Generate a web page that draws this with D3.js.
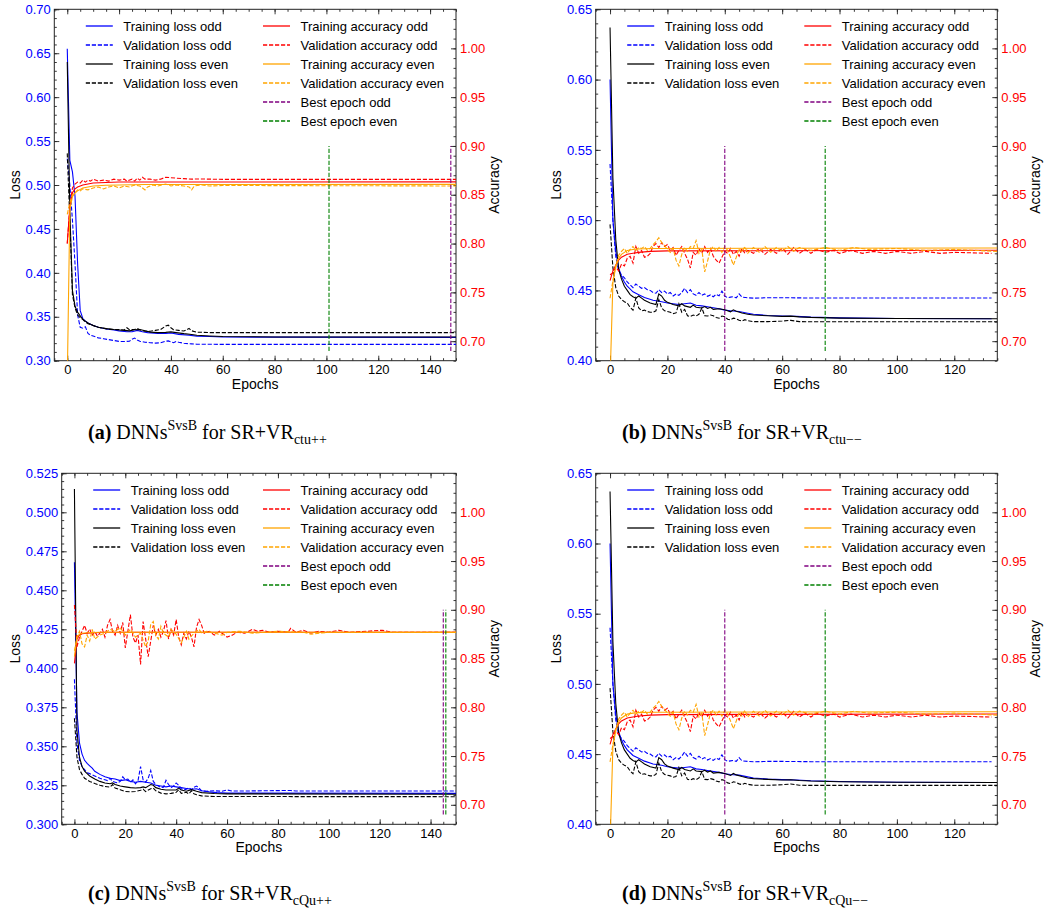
<!DOCTYPE html>
<html>
<head>
<meta charset="utf-8">
<script src="https://cdn.jsdelivr.net/npm/d3@7"></script>
<style>
  body { margin: 0; background: #fff; }
  svg text { font-family: "Liberation Sans", Arial, Helvetica, sans-serif; }
  svg .caption text { font-family: "Liberation Serif", "DejaVu Serif", serif; }
</style>
</head>
<body>
<svg id="fig" width="1047" height="920"></svg>
<script>
// ---- data: [epoch, value] pairs ----

// (a) SR+VR ctu++
var aTrainLossOdd = [[0,0.655],[1,0.528],[2,0.515],[3,0.487],[4,0.41],[5,0.357],[6,0.348],[7,0.345],[8,0.343],[10,0.340],[12,0.338],[15,0.336],[18,0.335],[20,0.334],[23,0.333],[25,0.333],[27,0.3345],[29,0.333],[31,0.332],[35,0.331],[38,0.331],[40,0.3315],[43,0.330],[47,0.329],[50,0.328],[55,0.3275],[60,0.327],[80,0.3268],[150,0.3266]];
var aValLossOdd = [[0,0.53],[1,0.50],[2,0.46],[3,0.41],[4,0.352],[5,0.338],[6,0.337],[7,0.3385],[8,0.331],[9,0.329],[10,0.328],[12,0.326],[14,0.325],[16,0.324],[18,0.323],[20,0.322],[22,0.3218],[24,0.3222],[25,0.3245],[26,0.3258],[27,0.3235],[28,0.3222],[30,0.321],[32,0.3205],[34,0.320],[36,0.3205],[38,0.3222],[39,0.3225],[40,0.3215],[41,0.3205],[42,0.3218],[43,0.3210],[45,0.3198],[48,0.3192],[50,0.3188],[60,0.3186],[150,0.3186]];
var aTrainLossEven = [[0,0.64],[1,0.47],[2,0.38],[3,0.362],[4,0.355],[5,0.351],[6,0.347],[8,0.343],[10,0.340],[12,0.338],[15,0.3365],[18,0.3355],[20,0.335],[22,0.3345],[24,0.334],[26,0.3352],[28,0.3355],[30,0.334],[32,0.3325],[35,0.332],[38,0.3322],[40,0.3328],[42,0.332],[45,0.3308],[48,0.3298],[50,0.329],[55,0.3282],[60,0.3275],[80,0.327],[150,0.327]];
var aValLossEven = [[0,0.536],[1,0.46],[2,0.375],[3,0.36],[4,0.352],[5,0.349],[6,0.347],[7,0.344],[8,0.342],[10,0.340],[12,0.338],[14,0.337],[16,0.336],[18,0.3355],[20,0.3355],[22,0.335],[23,0.3375],[24,0.3352],[26,0.3355],[27,0.3368],[28,0.3352],[30,0.3335],[32,0.3335],[34,0.3345],[36,0.3355],[38,0.3395],[39,0.3405],[40,0.3375],[41,0.3352],[43,0.3345],[45,0.3338],[46,0.335],[47,0.3368],[48,0.334],[50,0.3325],[55,0.332],[150,0.332]];
var aTrainAccOdd = [[0,0.80],[1,0.838],[2,0.852],[3,0.856],[4,0.858],[6,0.860],[8,0.861],[10,0.862],[15,0.8625],[20,0.863],[150,0.8632]];
var aValAccOdd = [[0,0.80],[1,0.838],[2,0.857],[3,0.861],[4,0.863],[5,0.862],[6,0.865],[7,0.863],[8,0.865],[9,0.864],[10,0.866],[12,0.864],[14,0.865],[16,0.864],[18,0.866],[20,0.865],[22,0.866],[23,0.864],[25,0.866],[26,0.864],[27,0.867],[28,0.865],[29,0.868],[30,0.866],[32,0.866],[34,0.865],[36,0.866],[38,0.868],[40,0.8675],[42,0.867],[45,0.8665],[48,0.866],[50,0.8662],[60,0.8658],[150,0.8658]];
var aTrainAccEven = [[0,0.66],[1,0.835],[2,0.848],[3,0.852],[4,0.854],[6,0.857],[8,0.858],[10,0.859],[15,0.8598],[20,0.860],[30,0.8605],[150,0.8606]];
var aValAccEven = [[0,0.83],[1,0.842],[2,0.85],[3,0.852],[4,0.855],[5,0.854],[6,0.856],[8,0.855],[10,0.857],[12,0.858],[14,0.856],[16,0.858],[18,0.859],[20,0.857],[22,0.859],[24,0.858],[26,0.860],[28,0.859],[30,0.855],[31,0.858],[33,0.860],[35,0.859],[38,0.861],[40,0.859],[42,0.860],[45,0.859],[47,0.858],[48,0.855],[49,0.859],[52,0.860],[55,0.859],[60,0.8595],[150,0.859]];
var aBest = [148, 101];

// (b) SR+VR ctu-- (panel d shows the same curves)
var bTrainLossOdd = [[0,0.60],[1,0.50],[2,0.478],[3,0.466],[4,0.46],[5,0.456],[6,0.453],[8,0.449],[10,0.447],[12,0.445],[15,0.443],[18,0.442],[20,0.441],[22,0.4405],[24,0.440],[26,0.4405],[28,0.4410],[30,0.4395],[32,0.439],[35,0.438],[38,0.437],[40,0.436],[42,0.4355],[45,0.435],[48,0.4338],[50,0.433],[55,0.4322],[60,0.4318],[65,0.4315],[70,0.431],[80,0.4305],[100,0.4300],[133,0.4298]];
var bValLossOdd = [[0,0.540],[1,0.50],[2,0.474],[3,0.464],[4,0.461],[5,0.459],[6,0.456],[7,0.454],[8,0.452],[9,0.4545],[10,0.453],[11,0.4515],[12,0.452],[13,0.4505],[14,0.450],[15,0.4485],[16,0.448],[17,0.4505],[18,0.4485],[19,0.4495],[20,0.4475],[21,0.4485],[22,0.446],[23,0.4475],[24,0.4465],[25,0.4485],[26,0.4515],[27,0.4485],[28,0.4505],[29,0.4475],[30,0.4465],[31,0.4485],[32,0.4465],[33,0.4475],[34,0.4458],[35,0.4468],[36,0.4455],[37,0.4472],[38,0.4462],[39,0.4495],[40,0.446],[41,0.4448],[42,0.4452],[43,0.4455],[44,0.4448],[45,0.4475],[46,0.4452],[48,0.4448],[50,0.4445],[55,0.4448],[60,0.4448],[70,0.4446],[133,0.4446]];
var bTrainLossEven = [[0,0.637],[1,0.53],[2,0.486],[3,0.465],[4,0.458],[5,0.453],[6,0.45],[7,0.447],[8,0.4455],[9,0.4445],[10,0.446],[11,0.4445],[12,0.443],[14,0.441],[16,0.44],[17,0.4475],[18,0.446],[19,0.443],[20,0.4415],[22,0.44],[24,0.439],[25,0.4405],[26,0.439],[28,0.438],[29,0.4395],[30,0.438],[32,0.4375],[33,0.4385],[34,0.4372],[35,0.438],[36,0.4365],[38,0.437],[40,0.4362],[42,0.4348],[43,0.4362],[44,0.4352],[46,0.434],[48,0.433],[50,0.4325],[55,0.432],[60,0.4315],[63,0.4317],[66,0.4312],[70,0.4308],[80,0.4303],[100,0.430],[135,0.4298]];
var bValLossEven = [[0,0.497],[1,0.466],[2,0.452],[3,0.446],[4,0.4435],[5,0.442],[6,0.441],[7,0.438],[8,0.436],[9,0.4445],[10,0.4375],[11,0.4355],[12,0.436],[13,0.435],[14,0.4345],[15,0.4345],[16,0.4355],[17,0.4435],[18,0.4375],[19,0.4355],[20,0.435],[21,0.4345],[22,0.4335],[23,0.434],[24,0.4405],[25,0.4345],[26,0.4365],[27,0.432],[28,0.4315],[29,0.4325],[30,0.4318],[31,0.433],[32,0.4375],[33,0.432],[34,0.4318],[35,0.4325],[36,0.432],[37,0.4308],[38,0.4302],[39,0.4318],[40,0.4312],[41,0.4295],[42,0.4290],[43,0.4303],[44,0.4298],[45,0.4288],[46,0.4283],[47,0.4292],[48,0.4285],[50,0.4278],[55,0.4278],[58,0.428],[60,0.4282],[63,0.4287],[66,0.4278],[70,0.4277],[135,0.4277]];
var bTrainAccOdd = [[0,0.762],[1,0.772],[2,0.778],[3,0.783],[4,0.786],[6,0.789],[8,0.790],[10,0.791],[14,0.792],[20,0.7925],[135,0.7932]];
var bValAccOdd = [[0,0.768],[1,0.770],[2,0.776],[3,0.772],[4,0.779],[5,0.777],[6,0.785],[7,0.787],[8,0.780],[9,0.797],[10,0.790],[11,0.793],[12,0.786],[13,0.787],[14,0.790],[15,0.797],[16,0.800],[17,0.796],[18,0.801],[19,0.797],[20,0.799],[21,0.793],[22,0.796],[23,0.788],[24,0.793],[25,0.797],[26,0.790],[27,0.784],[28,0.775],[29,0.791],[30,0.788],[31,0.795],[32,0.790],[33,0.797],[34,0.791],[35,0.795],[36,0.787],[37,0.783],[38,0.780],[39,0.786],[40,0.792],[41,0.790],[42,0.795],[43,0.789],[44,0.792],[45,0.787],[46,0.795],[47,0.790],[48,0.793],[50,0.790],[52,0.795],[54,0.789],[56,0.794],[58,0.790],[60,0.795],[62,0.789],[64,0.796],[66,0.790],[68,0.794],[70,0.790],[72,0.794],[75,0.791],[78,0.793],[80,0.790],[84,0.793],[88,0.790],[92,0.792],[96,0.790],[100,0.792],[105,0.790],[110,0.792],[115,0.790],[120,0.791],[133,0.790]];
var bTrainAccEven = [[0,0.66],[1,0.76],[2,0.776],[3,0.785],[4,0.789],[5,0.791],[6,0.793],[8,0.794],[10,0.7945],[15,0.795],[135,0.7955]];
var bValAccEven = [[0,0.744],[1,0.762],[2,0.778],[3,0.788],[4,0.792],[5,0.795],[6,0.790],[7,0.794],[8,0.797],[9,0.793],[10,0.796],[11,0.795],[12,0.797],[13,0.793],[14,0.795],[15,0.799],[16,0.802],[17,0.806],[18,0.801],[19,0.798],[20,0.794],[21,0.791],[22,0.795],[23,0.783],[24,0.777],[25,0.789],[26,0.796],[27,0.792],[28,0.797],[29,0.795],[30,0.803],[31,0.790],[32,0.794],[33,0.771],[34,0.782],[35,0.794],[36,0.797],[37,0.792],[38,0.796],[39,0.791],[40,0.797],[41,0.793],[42,0.786],[43,0.778],[44,0.786],[45,0.795],[46,0.791],[47,0.797],[48,0.790],[50,0.796],[52,0.791],[54,0.797],[56,0.791],[58,0.796],[60,0.792],[62,0.797],[64,0.792],[66,0.796],[70,0.793],[75,0.796],[80,0.793],[85,0.796],[90,0.794],[100,0.795],[110,0.793],[120,0.794],[135,0.792]];
var bBest = [40, 75];

// (c) SR+VR cQu++
var cTrainLossOdd = [[0,0.468],[1,0.372],[2,0.352],[3,0.345],[4,0.341],[5,0.339],[6,0.3375],[7,0.336],[8,0.334],[10,0.332],[12,0.3305],[14,0.3295],[16,0.329],[18,0.328],[20,0.3285],[22,0.3275],[24,0.327],[26,0.3275],[28,0.327],[30,0.3265],[32,0.325],[34,0.3245],[36,0.324],[38,0.3245],[40,0.324],[42,0.3235],[44,0.323],[46,0.3225],[48,0.3228],[50,0.3215],[53,0.3208],[56,0.3203],[60,0.320],[150,0.3198]];
var cValLossOdd = [[0,0.393],[1,0.352],[2,0.341],[3,0.337],[4,0.335],[5,0.333],[6,0.3325],[8,0.331],[10,0.3295],[12,0.3285],[13,0.328],[14,0.3295],[15,0.3275],[16,0.327],[17,0.3265],[18,0.3275],[19,0.3305],[20,0.3285],[21,0.329],[22,0.327],[23,0.3285],[24,0.326],[25,0.328],[26,0.337],[27,0.3285],[28,0.327],[29,0.3295],[30,0.3345],[31,0.3275],[32,0.3255],[33,0.3245],[34,0.3235],[35,0.3238],[36,0.3282],[37,0.3255],[38,0.3235],[39,0.3245],[40,0.3265],[41,0.325],[42,0.3228],[43,0.3222],[44,0.3225],[45,0.3235],[46,0.3222],[47,0.3238],[48,0.3245],[49,0.3232],[50,0.3215],[52,0.3212],[55,0.3215],[58,0.3212],[60,0.322],[62,0.3213],[70,0.3214],[85,0.3217],[87,0.3213],[150,0.3213]];
var cTrainLossEven = [[0,0.515],[1,0.36],[2,0.343],[3,0.337],[4,0.334],[5,0.3325],[6,0.331],[8,0.329],[10,0.3275],[12,0.3265],[14,0.326],[15,0.3265],[16,0.3255],[18,0.3245],[20,0.324],[22,0.3235],[24,0.3233],[26,0.3235],[27,0.324],[28,0.3235],[30,0.3255],[31,0.325],[32,0.3235],[34,0.3225],[36,0.322],[38,0.322],[40,0.322],[41,0.3232],[42,0.322],[44,0.3212],[46,0.3222],[48,0.3212],[50,0.3203],[55,0.3197],[60,0.3195],[150,0.3193]];
var cValLossEven = [[0,0.368],[1,0.343],[2,0.335],[3,0.332],[4,0.3295],[5,0.3285],[6,0.3275],[8,0.3262],[10,0.325],[12,0.3242],[14,0.3238],[15,0.3255],[16,0.3232],[18,0.3222],[20,0.321],[22,0.3208],[24,0.321],[26,0.3218],[27,0.3225],[28,0.321],[30,0.3228],[31,0.3232],[32,0.3215],[34,0.32],[36,0.3195],[38,0.3198],[40,0.3205],[41,0.3222],[42,0.3198],[44,0.3205],[45,0.3195],[46,0.3215],[47,0.3195],[48,0.319],[50,0.3182],[55,0.3178],[60,0.3178],[150,0.3177]];
var cTrainAccOdd = [[0,0.845],[1,0.870],[2,0.874],[3,0.8755],[5,0.876],[8,0.8765],[12,0.877],[150,0.8768]];
var cValAccOdd = [[0,0.905],[1,0.862],[2,0.872],[3,0.878],[4,0.884],[5,0.876],[6,0.880],[7,0.874],[8,0.878],[9,0.873],[10,0.876],[11,0.880],[12,0.872],[13,0.884],[14,0.890],[15,0.878],[16,0.874],[17,0.884],[18,0.876],[19,0.887],[20,0.861],[21,0.878],[22,0.895],[23,0.872],[24,0.866],[25,0.874],[26,0.844],[27,0.888],[28,0.870],[29,0.852],[30,0.868],[31,0.884],[32,0.874],[33,0.880],[34,0.872],[35,0.878],[36,0.889],[37,0.870],[38,0.880],[39,0.874],[40,0.890],[41,0.872],[42,0.864],[43,0.876],[44,0.870],[45,0.878],[46,0.872],[47,0.862],[48,0.882],[49,0.890],[50,0.884],[51,0.876],[53,0.878],[55,0.874],[57,0.878],[60,0.872],[62,0.874],[64,0.877],[67,0.876],[70,0.880],[72,0.878],[74,0.879],[77,0.877],[80,0.878],[84,0.877],[85,0.881],[87,0.877],[90,0.879],[93,0.876],[96,0.878],[100,0.877],[104,0.879],[108,0.877],[115,0.878],[121,0.879],[125,0.877],[150,0.877]];
var cTrainAccEven = [[0,0.852],[1,0.872],[2,0.875],[3,0.876],[5,0.8765],[10,0.877],[150,0.8768]];
var cValAccEven = [[0,0.858],[1,0.872],[2,0.878],[3,0.865],[4,0.862],[5,0.874],[6,0.868],[7,0.880],[8,0.870],[10,0.874],[12,0.876],[14,0.880],[16,0.878],[18,0.882],[20,0.874],[22,0.880],[24,0.872],[26,0.876],[28,0.862],[29,0.868],[30,0.885],[31,0.888],[32,0.874],[33,0.870],[34,0.883],[35,0.876],[37,0.872],[38,0.880],[40,0.875],[42,0.866],[44,0.878],[45,0.870],[47,0.876],[49,0.880],[50,0.876],[52,0.878],[55,0.876],[58,0.874],[60,0.877],[65,0.878],[70,0.876],[80,0.878],[90,0.877],[93,0.875],[100,0.877],[150,0.877]];
var cBest = [145, 146];

// tick values
var epochTicks150 = [0, 20, 40, 60, 80, 100, 120, 140];
var epochTicks135 = [0, 20, 40, 60, 80, 100, 120];
var accTicks = [0.70, 0.75, 0.80, 0.85, 0.90, 0.95, 1.00];

var legendLeft = ['Training loss odd', 'Validation loss odd', 'Training loss even', 'Validation loss even'];
var legendRight = ['Training accuracy odd', 'Validation accuracy odd', 'Training accuracy even',
  'Validation accuracy even', 'Best epoch odd', 'Best epoch even'];

// ---- layout / styles ----
var DASH = '4.2,1.8';
var styles = {
  lossOdd: 'blue', lossEven: 'black', accOdd: 'red', accEven: 'orange',
  bestOdd: 'purple', bestEven: 'green'
};

function makePanel(box, xMax, xTicks, loss, s, best, caption) {
  return {
    left: box[0], top: box[1], right: box[2], bottom: box[3],
    xMax: xMax, xTicks: xTicks, loss: loss, s: s, best: best, caption: caption
  };
}

var panels = [
  makePanel([54.3, 9.3, 456, 360.7], 150, epochTicks150,
    {min: 0.30, max: 0.70, step: 0.05, minor: 0.01, fmt: '.2f', labelX: 15},
    [aTrainLossOdd, aValLossOdd, aTrainLossEven, aValLossEven, aTrainAccOdd, aValAccOdd, aTrainAccEven, aValAccEven],
    aBest, {tag: '(a)', x: 88, y: 439, sub: 'ctu++'}),
  makePanel([595.7, 9.3, 997.3, 360.7], 135, epochTicks135,
    {min: 0.40, max: 0.65, step: 0.05, minor: 0.01, fmt: '.2f', labelX: 555.7},
    [bTrainLossOdd, bValLossOdd, bTrainLossEven, bValLossEven, bTrainAccOdd, bValAccOdd, bTrainAccEven, bValAccEven],
    bBest, {tag: '(b)', x: 622, y: 439, sub: 'ctu\u2212\u2212'}),
  makePanel([61.7, 473.3, 456, 824.3], 150, epochTicks150,
    {min: 0.300, max: 0.525, step: 0.025, minor: 0.005, fmt: '.3f', labelX: 15},
    [cTrainLossOdd, cValLossOdd, cTrainLossEven, cValLossEven, cTrainAccOdd, cValAccOdd, cTrainAccEven, cValAccEven],
    cBest, {tag: '(c)', x: 88, y: 900, sub: 'cQu++'}),
  makePanel([595.7, 473.3, 997.3, 824.3], 135, epochTicks135,
    {min: 0.40, max: 0.65, step: 0.05, minor: 0.01, fmt: '.2f', labelX: 555.7},
    [bTrainLossOdd, bValLossOdd, bTrainLossEven, bValLossEven, bTrainAccOdd, bValAccOdd, bTrainAccEven, bValAccEven],
    bBest, {tag: '(d)', x: 622, y: 900, sub: 'cQu\u2212\u2212'})
];

var svg = d3.select('#fig');

function rangeStep(a, b, st) {
  var out = [];
  var n = Math.round((b - a) / st);
  for (var i = 0; i <= n; i++) out.push(+(a + i * st).toFixed(4));
  return out;
}

function styleAxis(g) {
  g.select('.domain').remove();
  g.selectAll('.tick line').attr('stroke', '#222').attr('stroke-width', 0.9);
  g.selectAll('.tick text').attr('font-size', 13);
}

panels.forEach(function(p, idx) {
  var g = svg.append('g').attr('class', 'panel');
  var x = d3.scaleLinear().domain([-5, p.xMax]).range([p.left, p.right]);
  var yL = d3.scaleLinear().domain([p.loss.min, p.loss.max]).range([p.bottom, p.top]);
  var yA = d3.scaleLinear().domain([0.68, 1.04]).range([p.bottom, p.top]);
  var w = p.right - p.left, h = p.bottom - p.top;

  var clipId = 'clip' + idx;
  g.append('clipPath').attr('id', clipId)
    .append('rect').attr('x', p.left).attr('y', p.top).attr('width', w).attr('height', h);

  // minor ticks
  var xMinor = rangeStep(-5, p.xMax, 5);
  var lMinor = rangeStep(p.loss.min, p.loss.max, p.loss.minor);
  var aMinor = rangeStep(0.68, 1.04, 0.01);

  g.append('g').attr('transform', 'translate(0,' + p.bottom + ')')
    .call(d3.axisBottom(x).tickValues(xMinor).tickSizeInner(-2.5).tickSizeOuter(0).tickFormat(''))
    .call(styleAxis);
  g.append('g').attr('transform', 'translate(0,' + p.top + ')')
    .call(d3.axisTop(x).tickValues(xMinor).tickSizeInner(-2.5).tickSizeOuter(0).tickFormat(''))
    .call(styleAxis);
  g.append('g').attr('transform', 'translate(' + p.left + ',0)')
    .call(d3.axisLeft(yL).tickValues(lMinor).tickSizeInner(-2.5).tickSizeOuter(0).tickFormat(''))
    .call(styleAxis);
  g.append('g').attr('transform', 'translate(' + p.right + ',0)')
    .call(d3.axisRight(yA).tickValues(aMinor).tickSizeInner(-2.5).tickSizeOuter(0).tickFormat(''))
    .call(styleAxis);

  // major ticks
  g.append('g').attr('transform', 'translate(0,' + p.bottom + ')')
    .call(d3.axisBottom(x).tickValues(p.xTicks).tickSizeInner(-5).tickSizeOuter(0).tickPadding(4))
    .call(styleAxis)
    .call(function(a) { a.selectAll('.tick text').attr('fill', '#000'); });
  g.append('g').attr('transform', 'translate(0,' + p.top + ')')
    .call(d3.axisTop(x).tickValues(p.xTicks).tickSizeInner(-5).tickSizeOuter(0).tickFormat(''))
    .call(styleAxis);
  g.append('g').attr('transform', 'translate(' + p.left + ',0)')
    .call(d3.axisLeft(yL).tickValues(rangeStep(p.loss.min, p.loss.max, p.loss.step))
      .tickSizeInner(-5).tickSizeOuter(0).tickPadding(3.5).tickFormat(d3.format(p.loss.fmt)))
    .call(styleAxis)
    .call(function(a) { a.selectAll('.tick text').attr('fill', 'blue'); });
  g.append('g').attr('transform', 'translate(' + p.right + ',0)')
    .call(d3.axisRight(yA).tickValues(accTicks)
      .tickSizeInner(-5).tickSizeOuter(0).tickPadding(4).tickFormat(d3.format('.2f')))
    .call(styleAxis)
    .call(function(a) { a.selectAll('.tick text').attr('fill', 'red'); });

  // frame
  g.append('rect').attr('x', p.left).attr('y', p.top).attr('width', w).attr('height', h)
    .attr('fill', 'none').attr('stroke', '#222').attr('stroke-width', 1);

  // axis labels
  var midY = (p.top + p.bottom) / 2;
  g.append('text').attr('transform', 'translate(' + p.loss.labelX + ',' + midY + ') rotate(-90)')
    .attr('text-anchor', 'middle').attr('dy', '0.35em').attr('font-size', 14).text('Loss');
  g.append('text').attr('transform', 'translate(' + (p.right + 38) + ',' + midY + ') rotate(-90)')
    .attr('text-anchor', 'middle').attr('dy', '0.35em').attr('font-size', 14).text('Accuracy');
  g.append('text').attr('x', (p.left + p.right) / 2).attr('y', p.bottom + 28)
    .attr('text-anchor', 'middle').attr('font-size', 14).text('Epochs');

  // curves
  var plot = g.append('g').attr('clip-path', 'url(#' + clipId + ')');
  var lineL = d3.line().x(function(d) { return x(d[0]); }).y(function(d) { return yL(d[1]); });
  var lineA = d3.line().x(function(d) { return x(d[0]); }).y(function(d) { return yA(d[1]); });
  var specs = [
    [p.s[0], lineL, styles.lossOdd, null],
    [p.s[1], lineL, styles.lossOdd, DASH],
    [p.s[2], lineL, styles.lossEven, null],
    [p.s[3], lineL, styles.lossEven, DASH],
    [p.s[4], lineA, styles.accOdd, null],
    [p.s[5], lineA, styles.accOdd, DASH],
    [p.s[6], lineA, styles.accEven, null],
    [p.s[7], lineA, styles.accEven, DASH]
  ];
  specs.forEach(function(sp) {
    plot.append('path').datum(sp[0]).attr('d', sp[1])
      .attr('fill', 'none').attr('stroke', sp[2]).attr('stroke-width', 1.1)
      .attr('stroke-dasharray', sp[3]);
  });
  [[p.best[0], styles.bestOdd], [p.best[1], styles.bestEven]].forEach(function(b) {
    plot.append('line').attr('x1', x(b[0])).attr('x2', x(b[0]))
      .attr('y1', yA(0.69)).attr('y2', yA(0.90))
      .attr('stroke', b[1]).attr('stroke-width', 1.1).attr('stroke-dasharray', DASH);
  });

  // legend
  var leg = g.append('g').attr('class', 'legend');
  var rowY = function(i) { return p.top + 16.7 + i * 19; };
  var leftCol = [[styles.lossOdd, null], [styles.lossOdd, DASH], [styles.lossEven, null], [styles.lossEven, DASH]];
  var rightCol = [[styles.accOdd, null], [styles.accOdd, DASH], [styles.accEven, null], [styles.accEven, DASH],
    [styles.bestOdd, DASH], [styles.bestEven, DASH]];
  function legendCol(x0, items, labels) {
    items.forEach(function(it, i) {
      leg.append('line').attr('x1', x0).attr('x2', x0 + 27).attr('y1', rowY(i)).attr('y2', rowY(i))
        .attr('stroke', it[0]).attr('stroke-width', 1.3).attr('stroke-dasharray', it[1]);
      leg.append('text').attr('x', x0 + 37.5).attr('y', rowY(i)).attr('dy', '0.35em')
        .attr('font-size', 13).text(labels[i]);
    });
  }
  legendCol(p.left + 31.5, leftCol, legendLeft);
  legendCol(p.right - 193, rightCol, legendRight);

  // caption
  var cap = svg.append('g').attr('class', 'caption');
  var t = cap.append('text').attr('x', p.caption.x).attr('y', p.caption.y).attr('font-size', 20);
  t.append('tspan').attr('font-weight', 'bold').text(p.caption.tag + ' ');
  t.append('tspan').text('DNNs');
  t.append('tspan').attr('font-size', 14).attr('dy', -9).text('SvsB');
  t.append('tspan').attr('dy', 9).text(' for SR+VR');
  t.append('tspan').attr('font-size', 14).attr('dy', 5).text(p.caption.sub);
});
</script>
</body>
</html>
